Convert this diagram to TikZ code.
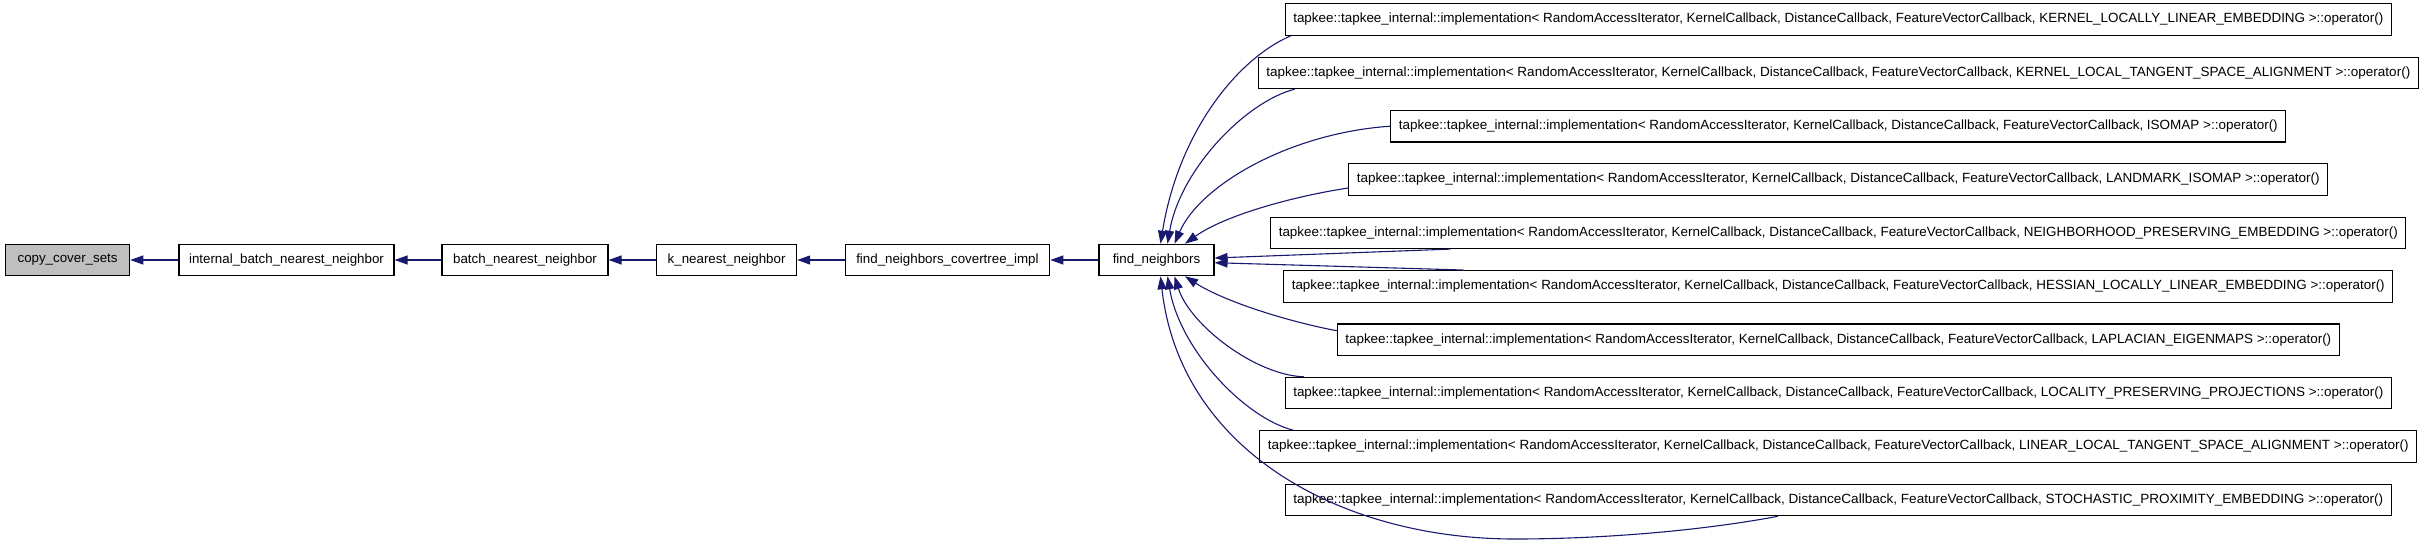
\documentclass[tikz,border=0pt]{standalone}
\usepackage{fontspec}
\usepackage{graphicx}
\setmainfont{Liberation Sans}
\usetikzlibrary{arrows.meta,calc}
\definecolor{edgeblue}{HTML}{191970}
\definecolor{grayfill}{HTML}{BFBFBF}
\newcommand{\tkpre}{tapkee::tapkee\_internal::implementation< RandomAccessIterator, KernelCallback, DistanceCallback, FeatureVectorCallback, }
\newcommand{\tkbox}[5]{\node[box, minimum width=#2pt] (#1) at (1838.3,#4) {\resizebox{#3pt}{\height}{\tkpre #5 >::operator()}};}
\begin{document}
\begin{tikzpicture}[x=1pt,y=-1pt,
  font=\fontsize{13.33}{16}\selectfont,
  box/.style={draw=black, line width=1.1pt, fill=white, minimum height=31.5pt,
    inner xsep=0pt, inner ysep=0pt, anchor=center},
  edge/.style={draw=edgeblue, line width=1.1pt, -{Triangle[length=13pt,width=9pt]}}]
\useasboundingbox (0,0) rectangle (2419,550);

% chain
\node[box, minimum width=124.2pt, fill=grayfill] (copy) at (67.6,260) {copy\_cover\_sets};
\node[box, minimum width=215pt] (internal) at (286.5,260) {internal\_batch\_nearest\_neighbor};
\node[box, minimum width=166pt] (batch) at (525,260) {batch\_nearest\_neighbor};
\node[box, minimum width=140pt] (knn) at (726.6,260) {k\_nearest\_neighbor};
\node[box, minimum width=204.7pt] (cov) at (947.4,260) {find\_neighbors\_covertree\_impl};
\node[box, minimum width=115pt] (fn) at (1156.5,260) {find\_neighbors};

% right column
\tkbox{b1}{1106}{1090}{19.5}{KERNEL\_LOCALLY\_LINEAR\_EMBEDDING}
\tkbox{b2}{1160}{1144}{72.8}{KERNEL\_LOCAL\_TANGENT\_SPACE\_ALIGNMENT}
\tkbox{b3}{895}{879}{126.2}{ISOMAP}
\tkbox{b4}{979}{963}{179.5}{LANDMARK\_ISOMAP}
\tkbox{b5}{1135}{1119}{232.8}{NEIGHBORHOOD\_PRESERVING\_EMBEDDING}
\tkbox{b6}{1109}{1093}{286.3}{HESSIAN\_LOCALLY\_LINEAR\_EMBEDDING}
\tkbox{b7}{1002}{986}{339.7}{LAPLACIAN\_EIGENMAPS}
\tkbox{b8}{1106}{1090}{393.1}{LOCALITY\_PRESERVING\_PROJECTIONS}
\tkbox{b9}{1157}{1141}{446.5}{LINEAR\_LOCAL\_TANGENT\_SPACE\_ALIGNMENT}
\tkbox{b10}{1106}{1090}{500}{STOCHASTIC\_PROXIMITY\_EMBEDDING}

% chain edges
\draw[edge] (internal) -- (copy);
\draw[edge] (batch) -- (internal);
\draw[edge] (knn) -- (batch);
\draw[edge] (cov) -- (knn);
\draw[edge] (fn) -- (cov);

% edges into find_neighbors
\draw[edge] ($(b1.south west)+(6,0)$) .. controls (1235,60) and (1178,135) .. ($(fn.north)+(4,0)$);
\draw[edge] ($(b2.south west)+(37,0)$) .. controls (1245,102) and (1180,170) .. ($(fn.north)+(11,0)$);
\draw[edge] (b3.west) .. controls (1290,133) and (1200,185) .. ($(fn.north)+(18,0)$);
\draw[edge] ($(b4.west)+(0,8.5)$) .. controls (1295,196) and (1225,215) .. ($(fn.north)+(28.5,0)$);
\draw[edge] ($(b5.south west)+(180,0)$) -- ($(fn.east)+(0,-2)$);
\draw[edge] ($(b6.north west)+(180,0)$) -- ($(fn.east)+(0,2.7)$);
\draw[edge] ($(b7.west)+(0,-9)$) .. controls (1290,322) and (1225,302) .. ($(fn.south)+(28.5,0)$);
\draw[edge] ($(b8.north west)+(19,0)$) .. controls (1255,375) and (1190,325) .. ($(fn.south)+(18,0)$);
\draw[edge] ($(b9.north west)+(34,0)$) .. controls (1245,418) and (1180,350) .. ($(fn.south)+(11,0)$);
\coordinate (low) at (1515,539);
\draw[edge] ($(b10.south west)+(493,0)$) .. controls (1700,531) and (1600,539) .. (low)
   .. controls (1340,539) and (1180,450) .. ($(fn.south)+(4,0)$);
\end{tikzpicture}
\end{document}
